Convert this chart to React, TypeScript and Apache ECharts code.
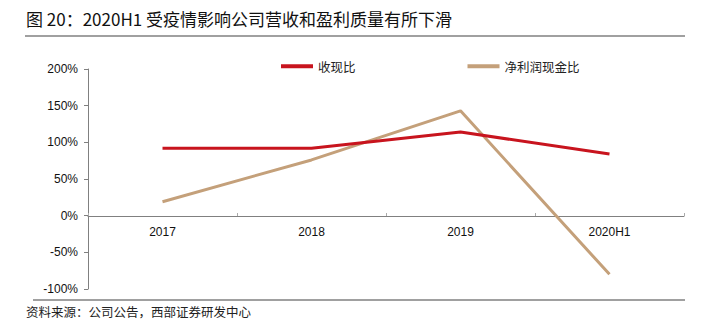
import React, { useEffect, useRef } from "react";
import * as echarts from "echarts";

const categories = ["2017", "2018", "2019", "2020H1"];
const cashRatio = [92, 92, 114, 84];
const profitCashRatio = [19, 76, 143, -80];
const yMin = -100;
const yMax = 200;
const yInterval = 50;

export default function App() {
  const ref = useRef<HTMLDivElement>(null);
  useEffect(() => {
    if (!ref.current) return;
    const chart = echarts.init(ref.current, null, { renderer: "svg" });
    const cjk = "'Noto Sans CJK SC', sans-serif";
    const num = "'Liberation Sans', Arial, sans-serif";
    const gridTop = 69;
    const gridBottom = 39;
    const plotH = 328 - gridTop - gridBottom;
    const zeroOffset = -Math.round((plotH * (0 - yMin)) / (yMax - yMin));
    chart.setOption({
      animation: false,
      backgroundColor: "#ffffff",
      graphic: [
        {
          type: "text",
          left: 26,
          top: 10,
          style: {
            text: "图 20：2020H1 受疫情影响公司营收和盈利质量有所下滑",
            font: `17px ${cjk}`,
            fill: "#111",
          },
        },
        {
          type: "line",
          shape: { x1: 25, y1: 36, x2: 685, y2: 36 },
          style: { stroke: "#808080", lineWidth: 1.5 },
        },
        {
          type: "line",
          shape: { x1: 33, y1: 300, x2: 685, y2: 300 },
          style: { stroke: "#808080", lineWidth: 1.5 },
        },
        {
          type: "text",
          left: 26,
          top: 305,
          style: {
            text: "资料来源：公司公告，西部证券研发中心",
            font: `12.5px ${cjk}`,
            fill: "#222",
          },
        },
      ],
      legend: {
        left: 276,
        top: 55,
        icon: "rect",
        itemWidth: 32,
        itemHeight: 4,
        itemGap: 112,
        textStyle: { fontFamily: cjk, fontSize: 12.5, color: "#222" },
        data: ["收现比", "净利润现金比"],
      },
      grid: { left: 88, right: 28, top: gridTop, bottom: gridBottom },
      xAxis: {
        type: "category",
        data: categories,
        boundaryGap: true,
        position: "bottom",
        offset: zeroOffset,
        axisLine: { onZero: false, lineStyle: { color: "#808080", width: 1 } },
        axisTick: { show: true, inside: true, length: 3, lineStyle: { color: "#aaa" } },
        axisLabel: { fontFamily: num, fontSize: 12, color: "#111", margin: 10 },
      },
      yAxis: {
        type: "value",
        min: yMin,
        max: yMax,
        interval: yInterval,
        axisLine: { show: true, lineStyle: { color: "#808080", width: 1 } },
        axisTick: { show: true, length: 4, lineStyle: { color: "#808080" } },
        splitLine: { show: false },
        axisLabel: {
          formatter: "{value}%",
          fontFamily: num,
          fontSize: 12,
          color: "#111",
          margin: 10,
        },
      },
      series: [
        {
          name: "收现比",
          type: "line",
          data: cashRatio,
          symbol: "none",
          lineStyle: { color: "#C8141E", width: 3 },
          itemStyle: { color: "#C8141E" },
          z: 3,
        },
        {
          name: "净利润现金比",
          type: "line",
          data: profitCashRatio,
          symbol: "none",
          lineStyle: { color: "#C4A07A", width: 3 },
          itemStyle: { color: "#C4A07A" },
          z: 2,
        },
      ],
    });
    return () => chart.dispose();
  }, []);
  return <div ref={ref} style={{ width: 712, height: 328, position: "absolute", left: 0, top: 0 }} />;
}
